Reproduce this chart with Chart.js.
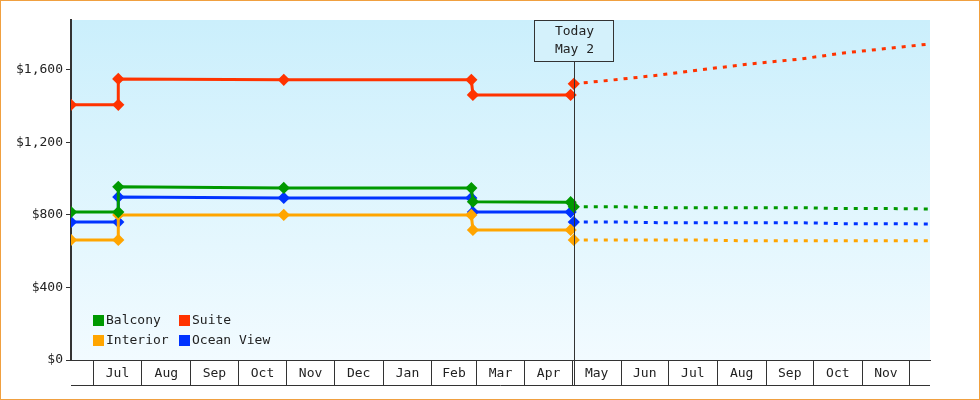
<!DOCTYPE html>
<html><head><meta charset="utf-8">
<script src="https://cdn.jsdelivr.net/npm/chart.js@4"></script>
<style>html,body{margin:0;padding:0;background:#fff}</style>
</head><body>
<canvas id="c" width="980" height="400"></canvas>
<script>
// x values are days counted from Jun 1
const monthNames = ['Jul','Aug','Sep','Oct','Nov','Dec','Jan','Feb','Mar','Apr','May','Jun','Jul','Aug','Sep','Oct','Nov'];
const monthStarts = [30,61,92,122,153,183,214,245,273,304,334,365,395,426,457,487,518,548];
const yTicks = [0,400,800,1200,1600];
const todayDay = 335;
const todayLabel = ['Today','May 2'];

const histDays = [16,46,46,151,270,271,333];
const balconyHist = [816,816,955,949,948,873,870];
const suiteHist   = [1407,1407,1550,1545,1545,1462,1462];
const oceanHist   = [761,761,899,894,894,816,816];
const interiorHist= [662,662,800,800,800,717,717];

const forecastDays = [335,364,390,415,447,479,506,536,561];
const balconyFc  = [845,845,840,840,840,840,835,835,833];
const suiteFc    = [1523,1548,1572,1600,1633,1660,1693,1720,1743];
const oceanFc    = [761,761,757,757,757,757,752,752,750];
const interiorFc = [662,662,662,662,657,657,657,657,657];

const series = [
  {name:'Balcony', color:'#009900', hist:balconyHist, fc:balconyFc},
  {name:'Suite', color:'#ff3300', hist:suiteHist, fc:suiteFc},
  {name:'Interior', color:'#ffa500', hist:interiorHist, fc:interiorFc},
  {name:'Ocean View', color:'#0033ff', hist:oceanHist, fc:oceanFc}
];
const FONT = '13px "DejaVu Sans Mono", monospace';

const datasets = [];
series.forEach(s=>{
  datasets.push({label:s.name, data:histDays.map((d,i)=>({x:d,y:s.hist[i]})), borderColor:s.color, backgroundColor:s.color,
    borderWidth:3, pointRadius:4, pointHoverRadius:4, pointStyle:'rectRot', tension:0});
  datasets.push({label:s.name+' forecast', data:forecastDays.map((d,i)=>({x:d,y:s.fc[i]})), borderColor:s.color, backgroundColor:s.color,
    borderWidth:3, borderDash:[4,6], pointRadius:forecastDays.map((d,i)=>i===0?4:0), pointStyle:'rectRot', tension:0});
});

const bgPlugin = {id:'bg', beforeDraw(c){
  const a=c.chartArea, ctx=c.ctx;
  const g=ctx.createLinearGradient(0,a.top,0,a.bottom);
  g.addColorStop(0,'#cbeffc'); g.addColorStop(1,'#f2fbff');
  ctx.save(); ctx.fillStyle=g; ctx.fillRect(a.left,a.top,a.right-a.left,a.bottom-a.top); ctx.restore();
}};
const overPlugin = {id:'over', afterDraw(c){
  const a=c.chartArea, ctx=c.ctx, xs=c.scales.x;
  ctx.save();
  // month labels
  ctx.font=FONT; ctx.fillStyle='#222'; ctx.textAlign='center'; ctx.textBaseline='middle';
  monthNames.forEach((m,i)=>{ const px=(xs.getPixelForValue(monthStarts[i])+xs.getPixelForValue(monthStarts[i+1]))/2; ctx.fillText(m,px,a.bottom+14); });
  // bottom line
  ctx.strokeStyle='#333'; ctx.lineWidth=1;
  ctx.beginPath(); ctx.moveTo(a.left,a.bottom+25.5); ctx.lineTo(a.right,a.bottom+25.5); ctx.stroke();
  // today line and box
  const tx=Math.round(xs.getPixelForValue(todayDay))+0.5;
  ctx.beginPath(); ctx.moveTo(tx,a.top); ctx.lineTo(tx,a.bottom+25); ctx.stroke();
  ctx.fillStyle='#d4f1fb'; ctx.fillRect(tx-40,a.top,79,41);
  ctx.strokeRect(tx-40,a.top+0.5,79,41);
  ctx.fillStyle='#222';
  ctx.fillText(todayLabel[0],tx,a.top+12); ctx.fillText(todayLabel[1],tx,a.top+30);
  // legend
  const lx=a.left+22, ly=a.bottom-40;
  [[0,0,0],[1,1,0],[2,0,1],[3,1,1]].forEach(([i,cx,cy])=>{
    const x=lx+cx*86, y=ly+cy*20;
    ctx.fillStyle=series[i].color; ctx.fillRect(x,y-5,11,11);
    ctx.fillStyle='#222'; ctx.textAlign='left'; ctx.fillText(series[i].name,x+13,y+1);
  });
  // outer border
  ctx.strokeStyle='#f0a040'; ctx.strokeRect(0.5,0.5,979,399);
  ctx.restore();
}};

new Chart(document.getElementById('c'), {
  type:'line',
  data:{datasets},
  plugins:[bgPlugin, overPlugin],
  options:{
    responsive:false, animation:false,
    layout:{padding:{left:0,top:20,right:50,bottom:15}},
    plugins:{legend:{display:false}, tooltip:{enabled:false}},
    scales:{
      x:{type:'linear', min:16, max:561,
        afterBuildTicks(s){ s.ticks=monthStarts.map(v=>({value:v})); },
        afterFit(s){ s.height=25; },
        ticks:{callback:()=>'', autoSkip:false, maxRotation:0},
        grid:{drawOnChartArea:false, tickLength:25, color:'#333'},
        border:{color:'#333', width:1}},
      y:{min:0, max:1875,
        afterBuildTicks(s){ s.ticks=yTicks.map(v=>({value:v})); },
        afterFit(s){ s.width=71; },
        ticks:{font:{family:'"DejaVu Sans Mono", monospace', size:13}, color:'#222', padding:3,
          callback:v=>'$'+v.toLocaleString('en-US')},
        grid:{drawOnChartArea:false, tickLength:5, color:'#333'},
        border:{color:'#333', width:2}}
    }
  }
});
</script>
</body></html>
